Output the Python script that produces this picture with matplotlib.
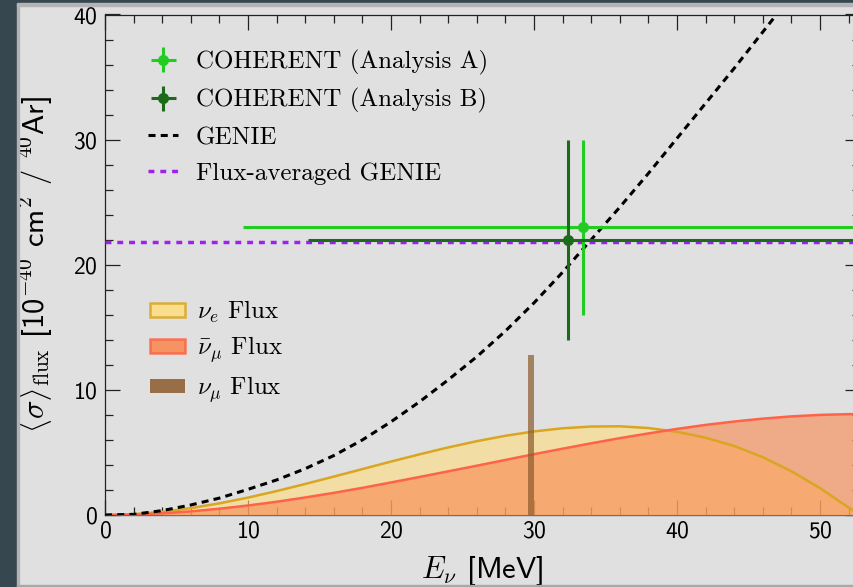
import matplotlib.pyplot as plt
from matplotlib.patches import Patch, Rectangle
from matplotlib.ticker import MultipleLocator

plt.rcParams['mathtext.fontset'] = 'cm'
plt.rcParams['font.family'] = 'cmss10'
plt.rcParams['axes.formatter.use_mathtext'] = True

# neutrino energy grid [MeV] for the curves
energy = [0, 2, 4, 6, 8, 10, 12, 14, 16, 18, 20, 22, 24, 26, 28, 30,
          32, 34, 36, 38, 40, 42, 44, 46, 48]
genie_xsec = [0, 0.05, 0.35, 0.8, 1.35, 2.05, 2.8, 3.7, 4.75, 6.0, 7.45, 9.05,
              10.8, 12.65, 14.7, 16.95, 19.4, 22.0, 24.6, 27.3, 30.1, 32.9,
              35.7, 38.6, 41.5]

flux_energy = [0, 2, 4, 6, 8, 10, 12, 14, 16, 18, 20, 22, 24, 26, 28, 30,
               32, 34, 36, 38, 40, 42, 44, 46, 48, 50, 52, 52.8]
nue_flux = [0, 0.07, 0.25, 0.55, 0.93, 1.39, 1.91, 2.48, 3.07, 3.67, 4.27,
            4.85, 5.40, 5.90, 6.33, 6.68, 6.93, 7.07, 7.09, 6.95, 6.65, 6.18,
            5.52, 4.62, 3.50, 2.15, 0.60, 0]
numubar_flux = [0, 0.03, 0.13, 0.29, 0.50, 0.76, 1.06, 1.40, 1.77, 2.17,
                2.60, 3.04, 3.49, 3.94, 4.40, 4.86, 5.30, 5.73, 6.14, 6.52,
                6.88, 7.20, 7.47, 7.70, 7.88, 8.00, 8.06, 8.07]
numu_line_energy = 29.8
numu_line_height = 12.8

flux_avg_genie = 21.8

# COHERENT measurements: energy, sigma, x errors (low, high), y error
coh_a = [33.4, 23.0, 23.75, 30.0, 7.0]
coh_b = [32.35, 22.0, 18.15, 30.0, 8.0]

W, H = 854, 587
fig = plt.figure(figsize=(W / 100, H / 100), dpi=100, facecolor='#e0e0e0')
ax = fig.add_axes([105 / W, 72 / H, 755 / W, 500.5 / H])
ax.set_facecolor('#e0e0e0')

# flux shapes (arbitrary normalisation)
ax.fill_between(flux_energy, nue_flux, color='#ffdd7f', alpha=0.6, lw=0, zorder=3)
ax.fill_between(flux_energy, numubar_flux, color='#fa864d', alpha=0.6, lw=0, zorder=3.1)
ax.plot(flux_energy, nue_flux, color='#daa520', lw=1.8, zorder=3.5)
ax.plot(flux_energy, numubar_flux, color='#ff6347', lw=1.8, zorder=3.6)
ax.bar([numu_line_energy], [numu_line_height], width=0.42, color='#8b5a2b',
       alpha=0.7, zorder=4)

# GENIE
ax.plot(energy, genie_xsec, color='black', lw=2.2, ls='--', dashes=(2.3, 1.7),
        zorder=4.5)
ax.axhline(flux_avg_genie, color='#a020f0', lw=2.5, ls='--', dashes=(1.7, 1.7),
           zorder=4.4)

eb_a = ax.errorbar(coh_a[0], coh_a[1], xerr=[[coh_a[2]], [coh_a[3]]], yerr=coh_a[4],
                   fmt='o', color='#22cc22', ms=7, elinewidth=2.2, capsize=0, zorder=5)
eb_b = ax.errorbar(coh_b[0], coh_b[1], xerr=[[coh_b[2]], [coh_b[3]]], yerr=coh_b[4],
                   fmt='o', color='#1b6b1b', ms=7, elinewidth=2.2, capsize=0, zorder=5)

ax.set_xlim(0, 52.8)
ax.set_ylim(0, 40)
ax.xaxis.set_major_locator(MultipleLocator(10))
ax.xaxis.set_minor_locator(MultipleLocator(2))
ax.yaxis.set_major_locator(MultipleLocator(10))
ax.yaxis.set_minor_locator(MultipleLocator(2))
ax.tick_params(which='both', direction='in', top=True, right=True,
               width=0.9, color='#222222', labelsize=17)
ax.tick_params(which='major', length=10.5)
ax.tick_params(which='minor', length=5.5)
ax.tick_params(axis='x', pad=4)
ax.tick_params(axis='y', pad=5)
for sp in ax.spines.values():
    sp.set_linewidth(0.9)
    sp.set_color('#222222')

ax.set_xlabel(r'$E_\nu$ [MeV]', fontsize=22)
ax.set_ylabel(r'$\langle\sigma\rangle_{\rm flux}$ [10$^{-40}$ cm$^{2}$ / $^{40}$Ar]',
              fontsize=22)
ax.xaxis.set_label_coords(0.5, -0.075)
ax.yaxis.set_label_coords(-0.066, 0.5)

leg_font = {'family': 'cmr10', 'size': 18}
handles1 = [eb_a, eb_b,
            plt.Line2D([], [], color='black', lw=2.2, ls='--', dashes=(2.3, 1.7)),
            plt.Line2D([], [], color='#a020f0', lw=2.5, ls='--', dashes=(1.7, 1.7))]
labels1 = ['COHERENT (Analysis A)', 'COHERENT (Analysis B)', 'GENIE',
           'Flux-averaged GENIE']
leg1 = ax.legend(handles1, labels1, loc='upper left', bbox_to_anchor=(0.057, 0.929),
                 frameon=False, prop=leg_font, borderpad=0, borderaxespad=0,
                 handlelength=1.2, handletextpad=0.7, labelspacing=0.53)
ax.add_artist(leg1)

handles2 = [Patch(facecolor='#ffdd7f', edgecolor='#daa520', lw=1.8, alpha=0.85),
            Patch(facecolor='#fa864d', edgecolor='#ff6347', lw=1.8, alpha=0.85),
            Patch(facecolor='#8b5a2b', alpha=0.85)]
labels2 = [r'$\nu_e$ Flux', r'$\bar{\nu}_\mu$ Flux', r'$\nu_\mu$ Flux']
ax.legend(handles2, labels2, loc='upper left', bbox_to_anchor=(0.0596, 0.432),
          frameon=False, prop=leg_font, borderpad=0, borderaxespad=0,
          handlelength=1.4, handleheight=0.5, handletextpad=0.5, labelspacing=0.37)

# slide frame around the cropped figure
fig.add_artist(Rectangle((0, 0), 17.5 / W, 1, transform=fig.transFigure,
                         color='#37474f', zorder=10))
fig.add_artist(Rectangle((0, 1 - 3.5 / H), 1, 3.5 / H, transform=fig.transFigure,
                         color='#37474f', zorder=10))
fig.add_artist(Rectangle((17.5 / W, 0), 2 / W, 1 - 3.5 / H, transform=fig.transFigure,
                         color='#b4b4b4', zorder=10))
fig.add_artist(Rectangle((17.5 / W, 1 - 5.5 / H), 1, 2 / H, transform=fig.transFigure,
                         color='#b4b4b4', zorder=10))
fig.add_artist(Rectangle((17.5 / W, 0), 1, 2.5 / H, transform=fig.transFigure,
                         color='#a8a8a8', zorder=10))

fig.savefig('out.png', dpi=100, facecolor=fig.get_facecolor())
